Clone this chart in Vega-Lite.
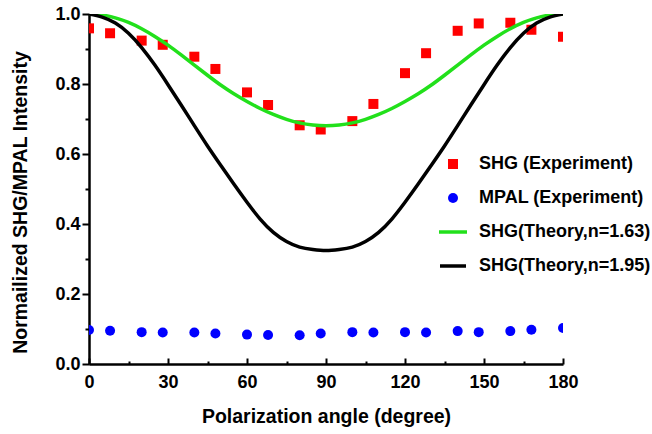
{
  "$schema": "https://vega.github.io/schema/vega-lite/v6.json",
  "width": 474,
  "height": 350,
  "autosize": {"type": "none"},
  "padding": {"left": 89, "top": 14, "right": 89, "bottom": 70},
  "background": "white",
  "config": {
    "view": {"stroke": null},
    "font": "Liberation Sans",
    "axis": {
      "labelFont": "Liberation Sans",
      "labelFontWeight": "bold",
      "labelFontSize": 18,
      "labelColor": "black",
      "titleFont": "Liberation Sans",
      "titleFontWeight": "bold",
      "titleFontSize": 19.5,
      "titleColor": "black",
      "domainColor": "black",
      "domainWidth": 2.5,
      "tickColor": "black",
      "tickWidth": 2,
      "grid": false
    },
    "legend": {
      "labelFont": "Liberation Sans",
      "labelFontWeight": "bold",
      "labelFontSize": 18,
      "labelColor": "black",
      "labelLimit": 400
    }
  },
  "data": {
    "values": [
      {"series": "SHG (Experiment)", "angle": 0, "value": 0.959},
      {"series": "SHG (Experiment)", "angle": 8, "value": 0.945},
      {"series": "SHG (Experiment)", "angle": 20, "value": 0.924},
      {"series": "SHG (Experiment)", "angle": 28, "value": 0.912},
      {"series": "SHG (Experiment)", "angle": 40, "value": 0.878},
      {"series": "SHG (Experiment)", "angle": 48, "value": 0.843},
      {"series": "SHG (Experiment)", "angle": 60, "value": 0.776},
      {"series": "SHG (Experiment)", "angle": 68, "value": 0.740},
      {"series": "SHG (Experiment)", "angle": 80, "value": 0.682},
      {"series": "SHG (Experiment)", "angle": 88, "value": 0.670},
      {"series": "SHG (Experiment)", "angle": 100, "value": 0.694},
      {"series": "SHG (Experiment)", "angle": 108, "value": 0.743},
      {"series": "SHG (Experiment)", "angle": 120, "value": 0.831},
      {"series": "SHG (Experiment)", "angle": 128, "value": 0.888},
      {"series": "SHG (Experiment)", "angle": 140, "value": 0.952},
      {"series": "SHG (Experiment)", "angle": 148, "value": 0.973},
      {"series": "SHG (Experiment)", "angle": 160, "value": 0.975},
      {"series": "SHG (Experiment)", "angle": 168, "value": 0.955},
      {"series": "SHG (Experiment)", "angle": 180, "value": 0.935},
      {"series": "MPAL (Experiment)", "angle": 0, "value": 0.097},
      {"series": "MPAL (Experiment)", "angle": 8, "value": 0.095},
      {"series": "MPAL (Experiment)", "angle": 20, "value": 0.091},
      {"series": "MPAL (Experiment)", "angle": 28, "value": 0.090},
      {"series": "MPAL (Experiment)", "angle": 40, "value": 0.090},
      {"series": "MPAL (Experiment)", "angle": 48, "value": 0.087},
      {"series": "MPAL (Experiment)", "angle": 60, "value": 0.084},
      {"series": "MPAL (Experiment)", "angle": 68, "value": 0.083},
      {"series": "MPAL (Experiment)", "angle": 80, "value": 0.082},
      {"series": "MPAL (Experiment)", "angle": 88, "value": 0.087},
      {"series": "MPAL (Experiment)", "angle": 100, "value": 0.091},
      {"series": "MPAL (Experiment)", "angle": 108, "value": 0.090},
      {"series": "MPAL (Experiment)", "angle": 120, "value": 0.091},
      {"series": "MPAL (Experiment)", "angle": 128, "value": 0.090},
      {"series": "MPAL (Experiment)", "angle": 140, "value": 0.094},
      {"series": "MPAL (Experiment)", "angle": 148, "value": 0.091},
      {"series": "MPAL (Experiment)", "angle": 160, "value": 0.094},
      {"series": "MPAL (Experiment)", "angle": 168, "value": 0.098},
      {"series": "MPAL (Experiment)", "angle": 180, "value": 0.103},
      {"series": "SHG(Theory,n=1.63)", "angle": 0, "value": 1.0},
      {"series": "SHG(Theory,n=1.63)", "angle": 5, "value": 0.997},
      {"series": "SHG(Theory,n=1.63)", "angle": 10, "value": 0.989},
      {"series": "SHG(Theory,n=1.63)", "angle": 15, "value": 0.976},
      {"series": "SHG(Theory,n=1.63)", "angle": 20, "value": 0.958},
      {"series": "SHG(Theory,n=1.63)", "angle": 25, "value": 0.936},
      {"series": "SHG(Theory,n=1.63)", "angle": 30, "value": 0.911},
      {"series": "SHG(Theory,n=1.63)", "angle": 35, "value": 0.883},
      {"series": "SHG(Theory,n=1.63)", "angle": 40, "value": 0.854},
      {"series": "SHG(Theory,n=1.63)", "angle": 45, "value": 0.825},
      {"series": "SHG(Theory,n=1.63)", "angle": 50, "value": 0.797},
      {"series": "SHG(Theory,n=1.63)", "angle": 55, "value": 0.772},
      {"series": "SHG(Theory,n=1.63)", "angle": 60, "value": 0.750},
      {"series": "SHG(Theory,n=1.63)", "angle": 65, "value": 0.730},
      {"series": "SHG(Theory,n=1.63)", "angle": 70, "value": 0.713},
      {"series": "SHG(Theory,n=1.63)", "angle": 75, "value": 0.699},
      {"series": "SHG(Theory,n=1.63)", "angle": 80, "value": 0.689},
      {"series": "SHG(Theory,n=1.63)", "angle": 85, "value": 0.683},
      {"series": "SHG(Theory,n=1.63)", "angle": 90, "value": 0.681},
      {"series": "SHG(Theory,n=1.63)", "angle": 95, "value": 0.683},
      {"series": "SHG(Theory,n=1.63)", "angle": 100, "value": 0.689},
      {"series": "SHG(Theory,n=1.63)", "angle": 105, "value": 0.699},
      {"series": "SHG(Theory,n=1.63)", "angle": 110, "value": 0.713},
      {"series": "SHG(Theory,n=1.63)", "angle": 115, "value": 0.730},
      {"series": "SHG(Theory,n=1.63)", "angle": 120, "value": 0.750},
      {"series": "SHG(Theory,n=1.63)", "angle": 125, "value": 0.772},
      {"series": "SHG(Theory,n=1.63)", "angle": 130, "value": 0.797},
      {"series": "SHG(Theory,n=1.63)", "angle": 135, "value": 0.825},
      {"series": "SHG(Theory,n=1.63)", "angle": 140, "value": 0.854},
      {"series": "SHG(Theory,n=1.63)", "angle": 145, "value": 0.883},
      {"series": "SHG(Theory,n=1.63)", "angle": 150, "value": 0.911},
      {"series": "SHG(Theory,n=1.63)", "angle": 155, "value": 0.936},
      {"series": "SHG(Theory,n=1.63)", "angle": 160, "value": 0.958},
      {"series": "SHG(Theory,n=1.63)", "angle": 165, "value": 0.976},
      {"series": "SHG(Theory,n=1.63)", "angle": 170, "value": 0.989},
      {"series": "SHG(Theory,n=1.63)", "angle": 175, "value": 0.997},
      {"series": "SHG(Theory,n=1.63)", "angle": 180, "value": 1.0},
      {"series": "SHG(Theory,n=1.95)", "angle": 0, "value": 1.0},
      {"series": "SHG(Theory,n=1.95)", "angle": 5, "value": 0.991},
      {"series": "SHG(Theory,n=1.95)", "angle": 10, "value": 0.974},
      {"series": "SHG(Theory,n=1.95)", "angle": 15, "value": 0.945},
      {"series": "SHG(Theory,n=1.95)", "angle": 20, "value": 0.904},
      {"series": "SHG(Theory,n=1.95)", "angle": 25, "value": 0.854},
      {"series": "SHG(Theory,n=1.95)", "angle": 30, "value": 0.798},
      {"series": "SHG(Theory,n=1.95)", "angle": 35, "value": 0.740},
      {"series": "SHG(Theory,n=1.95)", "angle": 40, "value": 0.681},
      {"series": "SHG(Theory,n=1.95)", "angle": 45, "value": 0.623},
      {"series": "SHG(Theory,n=1.95)", "angle": 50, "value": 0.568},
      {"series": "SHG(Theory,n=1.95)", "angle": 55, "value": 0.514},
      {"series": "SHG(Theory,n=1.95)", "angle": 60, "value": 0.462},
      {"series": "SHG(Theory,n=1.95)", "angle": 65, "value": 0.414},
      {"series": "SHG(Theory,n=1.95)", "angle": 70, "value": 0.376},
      {"series": "SHG(Theory,n=1.95)", "angle": 75, "value": 0.350},
      {"series": "SHG(Theory,n=1.95)", "angle": 80, "value": 0.334},
      {"series": "SHG(Theory,n=1.95)", "angle": 85, "value": 0.327},
      {"series": "SHG(Theory,n=1.95)", "angle": 90, "value": 0.324},
      {"series": "SHG(Theory,n=1.95)", "angle": 95, "value": 0.327},
      {"series": "SHG(Theory,n=1.95)", "angle": 100, "value": 0.334},
      {"series": "SHG(Theory,n=1.95)", "angle": 105, "value": 0.350},
      {"series": "SHG(Theory,n=1.95)", "angle": 110, "value": 0.376},
      {"series": "SHG(Theory,n=1.95)", "angle": 115, "value": 0.414},
      {"series": "SHG(Theory,n=1.95)", "angle": 120, "value": 0.462},
      {"series": "SHG(Theory,n=1.95)", "angle": 125, "value": 0.514},
      {"series": "SHG(Theory,n=1.95)", "angle": 130, "value": 0.568},
      {"series": "SHG(Theory,n=1.95)", "angle": 135, "value": 0.623},
      {"series": "SHG(Theory,n=1.95)", "angle": 140, "value": 0.681},
      {"series": "SHG(Theory,n=1.95)", "angle": 145, "value": 0.740},
      {"series": "SHG(Theory,n=1.95)", "angle": 150, "value": 0.798},
      {"series": "SHG(Theory,n=1.95)", "angle": 155, "value": 0.854},
      {"series": "SHG(Theory,n=1.95)", "angle": 160, "value": 0.904},
      {"series": "SHG(Theory,n=1.95)", "angle": 165, "value": 0.945},
      {"series": "SHG(Theory,n=1.95)", "angle": 170, "value": 0.974},
      {"series": "SHG(Theory,n=1.95)", "angle": 175, "value": 0.991},
      {"series": "SHG(Theory,n=1.95)", "angle": 180, "value": 1.0}
    ]
  },
  "encoding": {
    "x": {
      "field": "angle",
      "type": "quantitative",
      "scale": {"domain": [0, 180], "nice": false, "zero": false},
      "axis": {
        "title": "Polarization angle (degree)",
        "values": [0, 15, 30, 45, 60, 75, 90, 105, 120, 135, 150, 165, 180],
        "labelExpr": "datum.value % 30 == 0 ? datum.label : ''",
        "tickSize": {"condition": {"test": "datum.value % 30 == 0", "value": -6}, "value": -3},
        "labelPadding": 15,
        "labelFlush": false,
        "labelOverlap": false,
        "titleBaseline": "alphabetic",
        "titleY": 58
      }
    },
    "y": {
      "field": "value",
      "type": "quantitative",
      "scale": {"domain": [0, 1.0], "nice": false},
      "axis": {
        "title": "Normailized SHG/MPAL Intensity",
        "values": [0, 0.1, 0.2, 0.3, 0.4, 0.5, 0.6, 0.7, 0.8, 0.9, 1.0],
        "labelExpr": "round(datum.value*10) % 2 == 0 ? format(datum.value, '.1f') : ''",
        "tickSize": {"condition": {"test": "round(datum.value*10) % 2 == 0", "value": 7}, "value": 4},
        "labelPadding": 2,
        "labelFlush": false,
        "labelOverlap": false,
        "titleX": -69,
        "titleY": 188,
        "titleBaseline": "middle",
        "titleAngle": -90
      }
    }
  },
  "layer": [
    {
      "transform": [{"filter": "indexof(datum.series, 'Experiment') >= 0"}],
      "mark": {"type": "point", "filled": true, "opacity": 1, "size": 100, "clip": true},
      "encoding": {
        "color": {
          "field": "series",
          "type": "nominal",
          "scale": {
            "domain": ["SHG (Experiment)", "MPAL (Experiment)", "SHG(Theory,n=1.63)", "SHG(Theory,n=1.95)"],
            "range": ["#ff0000", "#0000ff", "#22e01b", "#000000"]
          },
          "legend": {
            "title": null,
            "orient": "none",
            "legendX": 355,
            "legendY": 141,
            "symbolSize": 100,
            "labelOffset": 17,
            "rowPadding": 16,
            "padding": 0
          }
        },
        "shape": {
          "field": "series",
          "type": "nominal",
          "scale": {
            "domain": ["SHG (Experiment)", "MPAL (Experiment)", "SHG(Theory,n=1.63)", "SHG(Theory,n=1.95)"],
            "range": ["square", "circle", "M-2.8,-0.35L2.8,-0.35L2.8,0.35L-2.8,0.35Z", "M-2.6,-0.35L2.6,-0.35L2.6,0.35L-2.6,0.35Z"]
          },
          "legend": {
            "title": null,
            "orient": "none",
            "legendX": 355,
            "legendY": 141,
            "symbolSize": 100,
            "labelOffset": 17,
            "rowPadding": 16,
            "padding": 0
          }
        }
      }
    },
    {
      "transform": [{"filter": "datum.series == 'SHG(Theory,n=1.63)'"}],
      "mark": {"type": "line", "color": "#22e01b", "strokeWidth": 3.5, "clip": true, "interpolate": "natural"}
    },
    {
      "transform": [{"filter": "datum.series == 'SHG(Theory,n=1.95)'"}],
      "mark": {"type": "line", "color": "#000000", "strokeWidth": 3.5, "clip": true, "interpolate": "natural"}
    }
  ]
}
